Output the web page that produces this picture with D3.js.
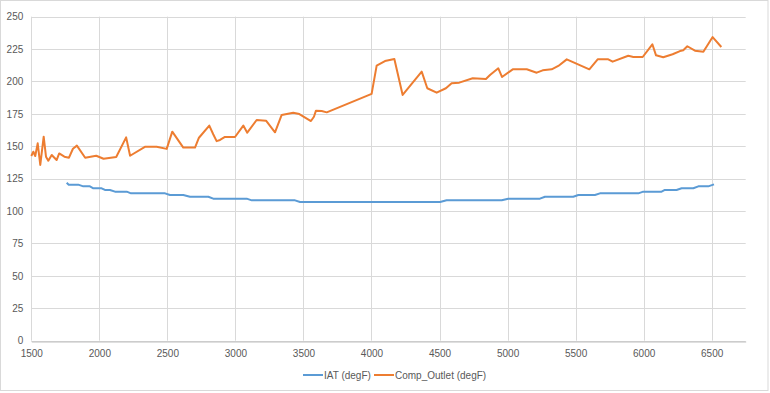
<!DOCTYPE html>
<html>
<head>
<meta charset="utf-8">
<title>IAT vs Comp_Outlet</title>
<script src="https://cdn.jsdelivr.net/npm/d3@7"></script>
<style>
    html, body { margin: 0; padding: 0; background: #fff; }
    svg { display: block; }
    text {
        font-family: "Liberation Sans Narrow", "Liberation Sans", Arial, sans-serif;
        fill: #595959;
        font-size: 10px;
    }
    .grid line { stroke: #d9d9d9; stroke-width: 1; }
</style>
</head>
<body>
<svg id="chart" width="770" height="393"></svg>
<script>
// tick values
var xTicks = [1500, 2000, 2500, 3000, 3500, 4000, 4500, 5000, 5500, 6000, 6500];
var yTicks = [0, 25, 50, 75, 100, 125, 150, 175, 200, 225, 250];

// series: [rpm, degF]
var iat = [
    [1760,121.9],[1775,120.4],[1845,120.4],[1882,119.1],[1931,119.1],[1956,117.6],
    [2017,117.6],[2041,116.3],[2078,116.3],[2115,115],[2201,115],[2233,113.7],
    [2483,113.7],[2519,112.4],[2617,112.4],[2666,111.1],[2801,111.1],[2837,109.6],
    [3083,109.6],[3120,108.3],[3438,108.3],[3475,107],[4504,107],[4552,108.3],
    [4957,108.3],[5005,109.6],[5238,109.6],[5275,111.1],[5483,111.1],[5520,112.4],
    [5642,112.4],[5679,113.7],[5961,113.7],[5997,115],[6132,115],[6156,116.3],
    [6242,116.3],[6279,117.6],[6365,117.6],[6402,119.1],[6475,119.1],[6517,120.6]
];
var compOutlet = [
    [1500,142.5],[1515,145.8],[1529,142.5],[1547,152.3],[1566,135.6],[1591,157.4],
    [1608,142],[1625,138.9],[1650,143.3],[1686,139.4],[1705,144.5],[1743,142],
    [1777,141.2],[1806,148.1],[1835,150.5],[1896,141.2],[1977,142.7],[2031,140.4],
    [2124,141.7],[2197,156.9],[2226,142.7],[2338,149.7],[2421,149.7],[2495,148],
    [2536,161.3],[2617,149],[2703,149],[2732,156.6],[2808,166],[2837,159.3],
    [2862,154],[2887,154.9],[2923,157.2],[2997,157.2],[3058,166],[3087,160.5],
    [3156,170.3],[3225,169.8],[3291,160.8],[3340,174.2],[3425,175.9],[3470,174.9],
    [3555,169.5],[3577,172.8],[3592,177.5],[3634,177.2],[3671,176.2],[4001,190.4],
    [4038,212.2],[4099,215.8],[4168,217.4],[4229,189.6],[4369,207.6],[4410,194.8],
    [4479,191.4],[4547,194.8],[4589,198.6],[4645,199.1],[4744,202.5],[4841,201.9],
    [4871,205],[4932,210.2],[4959,203.5],[5038,209.4],[5141,209.4],[5214,206.8],
    [5258,208.6],[5324,209.4],[5373,212],[5435,217.1],[5601,209.4],[5662,217.1],
    [5740,217.1],[5772,215.3],[5887,219.9],[5924,218.9],[5993,218.9],[6064,228.7],
    [6091,220.2],[6144,218.7],[6213,221],[6267,223.5],[6291,224.1],[6321,227.2],
    [6377,223.8],[6439,223],[6507,234.3],[6571,226.6]
];
var seriesNames = ["IAT (degF)", "Comp_Outlet (degF)"];
var seriesColors = ["#5b9bd5", "#ed7d31"];

var svg = d3.select("#chart");
var plotLeft = 31.3, plotRight = 745.7, plotTop = 16.7, plotBottom = 340.7;

// outer chart border
svg.append("rect")
    .attr("x", 0.5).attr("y", 0.5)
    .attr("width", 767.5).attr("height", 390)
    .attr("fill", "#fff")
    .attr("stroke", "#d9d9d9");

var x = d3.scaleLinear().domain([1500, 6750]).range([plotLeft, plotRight]);
var y = d3.scaleLinear().domain([0, 250]).range([plotBottom, plotTop]);

// horizontal grid
svg.append("g").attr("class", "grid")
    .selectAll("line").data(yTicks).enter().append("line")
    .attr("x1", plotLeft).attr("x2", plotRight)
    .attr("y1", function(d) { return Math.round(y(d)) + 0.5; })
    .attr("y2", function(d) { return Math.round(y(d)) + 0.5; });

// vertical grid
svg.append("g").attr("class", "grid")
    .selectAll("line").data(xTicks).enter().append("line")
    .attr("y1", plotTop).attr("y2", plotBottom)
    .attr("x1", function(d) { return Math.round(x(d)) + 0.5; })
    .attr("x2", function(d) { return Math.round(x(d)) + 0.5; });

// axes (labels only, Excel style)
var yAxis = svg.append("g")
    .attr("transform", "translate(" + (plotLeft - 2) + ",0)")
    .call(d3.axisLeft(y).tickValues(yTicks).tickSize(0).tickPadding(6));
var xAxis = svg.append("g")
    .attr("transform", "translate(0," + (Math.round(plotBottom) + 0.5) + ")")
    .call(d3.axisBottom(x).tickValues(xTicks).tickSize(0).tickPadding(8).tickFormat(d3.format("d")));
yAxis.select(".domain").remove();
xAxis.select(".domain").attr("stroke", "#bfbfbf");
svg.selectAll(".tick text").attr("fill", "#595959").style("font-size", "10px")
    .style("font-family", '"Liberation Sans Narrow", "Liberation Sans", Arial, sans-serif');

// lines
var line = d3.line()
    .x(function(d) { return x(d[0]); })
    .y(function(d) { return y(d[1]); });

[iat, compOutlet].forEach(function(data, i) {
    svg.append("path")
        .datum(data)
        .attr("fill", "none")
        .attr("stroke", seriesColors[i])
        .attr("stroke-width", 2)
        .attr("stroke-linejoin", "round")
        .attr("d", line);
});

// legend
var legendX = [303, 374];
seriesNames.forEach(function(name, i) {
    var g = svg.append("g").attr("transform", "translate(" + legendX[i] + ",375)");
    g.append("line")
        .attr("x1", 0).attr("x2", 20)
        .attr("stroke", seriesColors[i]).attr("stroke-width", 2);
    g.append("text")
        .attr("x", 21).attr("dy", "0.35em")
        .text(name);
});
</script>
</body>
</html>
